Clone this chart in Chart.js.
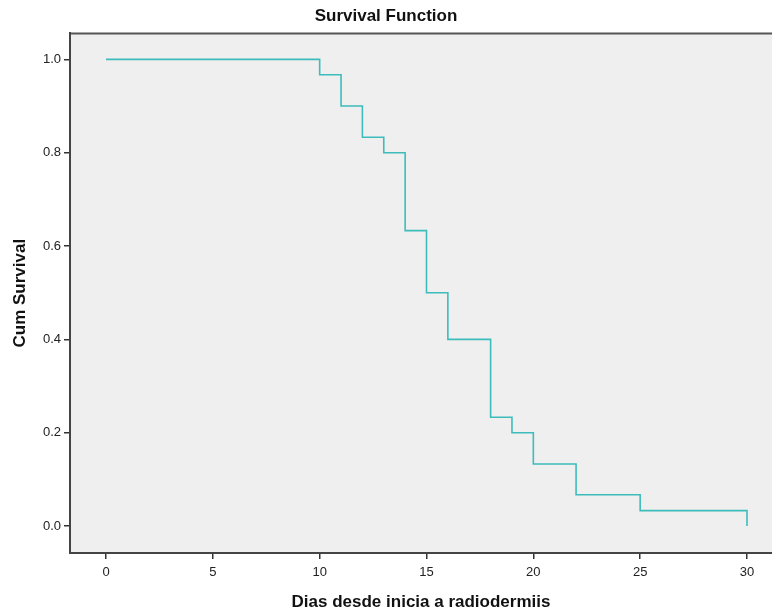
<!DOCTYPE html>
<html>
<head>
<meta charset="utf-8">
<script src="https://cdn.jsdelivr.net/npm/chart.js@4"></script>
<style>
html,body{margin:0;padding:0;background:#fff;}
#wrap{width:772px;height:613px;}
</style>
</head>
<body>
<div id="wrap"><canvas id="c" width="772" height="613"></canvas></div>
<script>
const days = [0, 10, 11, 12, 13, 14, 15, 16, 18, 19, 20, 22, 25, 30];
const survival = [1.0, 0.967, 0.9, 0.833, 0.8, 0.633, 0.5, 0.4, 0.233, 0.2, 0.133, 0.067, 0.033, 0.0];
const xTicks = [0, 5, 10, 15, 20, 25, 30];
const yTicks = [0.0, 0.2, 0.4, 0.6, 0.8, 1.0];

const points = days.map((d, i) => ({x: d, y: survival[i]}));

const bgPlugin = {
  id: 'bgPlugin',
  beforeDraw(chart) {
    const {ctx, chartArea: a} = chart;
    ctx.save();
    ctx.fillStyle = '#efefef';
    ctx.fillRect(a.left, a.top, a.right - a.left, a.bottom - a.top);
    ctx.strokeStyle = '#555';
    ctx.lineWidth = 2;
    ctx.beginPath();
    ctx.moveTo(a.left, a.top);
    ctx.lineTo(a.right, a.top);
    ctx.stroke();
    ctx.restore();
  }
};

new Chart(document.getElementById('c'), {
  type: 'line',
  data: {
    datasets: [{
      data: points,
      stepped: 'before',
      borderColor: '#3dbcbc',
      borderWidth: 1.6,
      pointRadius: 0,
      fill: false
    }]
  },
  options: {
    responsive: false,
    animation: false,
    layout: {padding: {top: 1, right: 0, left: 0, bottom: 0}},
    plugins: {
      legend: {display: false},
      tooltip: {enabled: false},
      title: {
        display: true,
        text: 'Survival Function',
        color: '#111',
        font: {family: 'Liberation Sans', size: 17, weight: 'bold'},
        padding: {top: 5, bottom: 7}
      }
    },
    scales: {
      x: {
        type: 'linear',
        min: -1.685,
        max: 31.17,
        afterBuildTicks(s) { s.ticks = xTicks.map(v => ({value: v})); },
        afterFit(s) { s.height = 60; },
        grid: {drawOnChartArea: false, drawTicks: true, tickLength: 6, color: '#333', lineWidth: 1.5},
        border: {color: '#444', width: 2},
        ticks: {color: '#222', font: {family: 'Liberation Sans', size: 13}, padding: 6, maxRotation: 0},
        title: {
          display: true,
          text: 'Dias desde inicia a radiodermiis',
          color: '#111',
          font: {family: 'Liberation Sans', size: 17, weight: 'bold'},
          padding: {top: 0, bottom: 0}
        }
      },
      y: {
        type: 'linear',
        min: -0.0578,
        max: 1.0557,
        afterBuildTicks(s) { s.ticks = yTicks.map(v => ({value: v})); },
        afterFit(s) { s.width = 70; },
        grid: {drawOnChartArea: false, drawTicks: true, tickLength: 6, color: '#333', lineWidth: 1.5},
        border: {color: '#444', width: 2},
        ticks: {color: '#222', font: {family: 'Liberation Sans', size: 13}, padding: 3, callback: v => v.toFixed(1)},
        title: {
          display: true,
          text: 'Cum Survival',
          color: '#111',
          font: {family: 'Liberation Sans', size: 17, weight: 'bold'},
          padding: {top: 10, bottom: 0}
        }
      }
    }
  },
  plugins: [bgPlugin]
});
</script>
</body>
</html>
